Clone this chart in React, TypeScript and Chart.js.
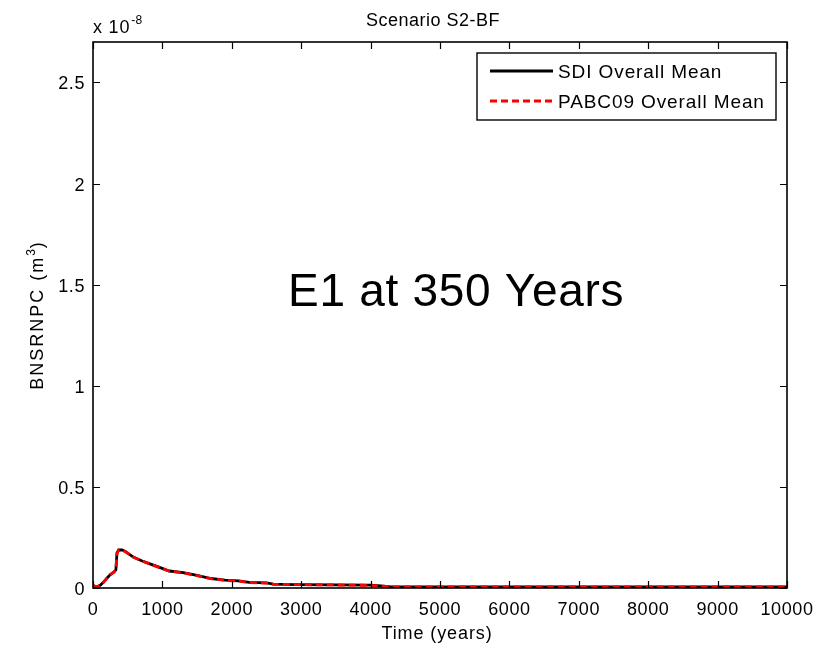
import React, { useEffect, useRef } from "react";
import { Chart, registerables } from "chart.js";

Chart.register(...registerables);

// ---- data (values in units of 1e-8 m^3) ----
const timeYears = [0, 50, 100, 150, 200, 250, 300, 330, 345, 370, 420, 470, 570, 700, 800, 950, 1100, 1300, 1500, 1700, 1900, 2100, 2250, 2500, 2600, 2900, 3500, 4000, 4150, 4300, 5000, 6000, 7000, 8000, 9000, 10000];
const sdiMean = [0.012, 0.006, 0.012, 0.028, 0.048, 0.066, 0.078, 0.09, 0.172, 0.188, 0.188, 0.18, 0.155, 0.135, 0.122, 0.103, 0.084, 0.076, 0.062, 0.047, 0.039, 0.035, 0.028, 0.025, 0.019, 0.017, 0.015, 0.014, 0.01, 0.006, 0.006, 0.006, 0.006, 0.006, 0.006, 0.006];
const pabcMean = [0.012, 0.006, 0.012, 0.028, 0.048, 0.066, 0.078, 0.09, 0.171, 0.188, 0.187, 0.179, 0.154, 0.134, 0.121, 0.102, 0.083, 0.075, 0.061, 0.046, 0.038, 0.034, 0.027, 0.024, 0.018, 0.017, 0.015, 0.013, 0.009, 0.006, 0.006, 0.006, 0.006, 0.006, 0.006, 0.006];

const xTicks = [0, 1000, 2000, 3000, 4000, 5000, 6000, 7000, 8000, 9000, 10000];
const xTickLabels = ["0", "1000", "2000", "3000", "4000", "5000", "6000", "7000", "8000", "9000", "10000"];
const yTicks = [0, 0.5, 1, 1.5, 2, 2.5];
const yTickLabels = ["0", "0.5", "1", "1.5", "2", "2.5"];

const seriesNames = ["SDI Overall Mean", "PABC09 Overall Mean"];
const chartTitle = "Scenario S2-BF";
const xTitle = "Time (years)";
const yTitleMain = "BNSRNPC (m";
const yTitleSup = "3";
const yTitleTail = ")";
const annotation = "E1 at 350 Years";
const exponentText = "x 10";
const exponentSup = "-8";

const FONT = '"Liberation Sans", Arial, Helvetica, sans-serif';

function drawText(ctx: CanvasRenderingContext2D, s: string, x: number, y: number, size: number, align: CanvasTextAlign = "left", spacing = 0) {
  ctx.font = `${size}px ${FONT}`;
  (ctx as any).letterSpacing = `${spacing}px`;
  ctx.textAlign = align;
  ctx.textBaseline = "alphabetic";
  ctx.fillText(s, x, y);
  (ctx as any).letterSpacing = "0px";
}

function measure(ctx: CanvasRenderingContext2D, s: string, size: number, spacing = 0) {
  ctx.font = `${size}px ${FONT}`;
  (ctx as any).letterSpacing = `${spacing}px`;
  const w = ctx.measureText(s).width;
  (ctx as any).letterSpacing = "0px";
  return w;
}

const decorPlugin = {
  id: "matlabDecor",
  afterDraw(chart: any) {
    const { ctx, chartArea: a, scales } = chart;
    const xs = scales.x;
    const ys = scales.y;
    ctx.save();
    ctx.fillStyle = "#000";
    ctx.strokeStyle = "#000";

    // ticks (inward, on all four sides)
    ctx.lineWidth = 1.2;
    ctx.beginPath();
    xTicks.forEach((v) => {
      const px = Math.round(xs.getPixelForValue(v)) + 0.5;
      ctx.moveTo(px, a.bottom);
      ctx.lineTo(px, a.bottom - 7);
      ctx.moveTo(px, a.top);
      ctx.lineTo(px, a.top + 7);
    });
    yTicks.forEach((v) => {
      const py = Math.round(ys.getPixelForValue(v)) + 0.5;
      ctx.moveTo(a.left, py);
      ctx.lineTo(a.left + 7, py);
      ctx.moveTo(a.right, py);
      ctx.lineTo(a.right - 7, py);
    });
    ctx.stroke();

    // box
    ctx.lineWidth = 1.6;
    ctx.strokeRect(a.left, a.top, a.right - a.left, a.bottom - a.top);

    // tick labels
    xTicks.forEach((v, i) => {
      drawText(ctx, xTickLabels[i], xs.getPixelForValue(v), a.bottom + 27, 18, "center", 0.6);
    });
    yTicks.forEach((v, i) => {
      drawText(ctx, yTickLabels[i], a.left - 8, ys.getPixelForValue(v) + 7, 18, "right", 0.6);
    });

    // exponent
    drawText(ctx, exponentText, a.left, a.top - 9, 18, "left", 0.8);
    const ew = measure(ctx, exponentText, 18, 0.8);
    drawText(ctx, exponentSup, a.left + ew + 1, a.top - 18, 12, "left", 0.4);

    // title
    drawText(ctx, chartTitle, (a.left + a.right) / 2 - 7, 26, 18, "center", 0.5);

    // x title
    drawText(ctx, xTitle, (a.left + a.right) / 2 - 3, 639, 18, "center", 0.9);

    // y title (rotated)
    ctx.save();
    ctx.translate(43, (a.top + a.bottom) / 2);
    ctx.rotate(-Math.PI / 2);
    const w1 = measure(ctx, yTitleMain, 18, 2.0);
    const w2 = measure(ctx, yTitleSup, 12, 1.0);
    const w3 = measure(ctx, yTitleTail, 18, 2.0);
    const tot = w1 + w2 + w3;
    let cx = -tot / 2;
    drawText(ctx, yTitleMain, cx, 0, 18, "left", 2.0);
    cx += w1;
    drawText(ctx, yTitleSup, cx, -8, 12, "left", 1.0);
    cx += w2;
    drawText(ctx, yTitleTail, cx, 0, 18, "left", 2.0);
    ctx.restore();

    // annotation
    drawText(ctx, annotation, 288, 306, 46, "left", 0.7);

    // legend
    const lx = 477, ly = 53, lw = 299, lh = 67;
    ctx.fillStyle = "#fff";
    ctx.fillRect(lx, ly, lw, lh);
    ctx.lineWidth = 1.4;
    ctx.strokeStyle = "#000";
    ctx.strokeRect(lx, ly, lw, lh);
    const ds = chart.data.datasets;
    const rows = [71, 101];
    rows.forEach((ry, i) => {
      ctx.save();
      ctx.strokeStyle = ds[i].borderColor;
      ctx.lineWidth = ds[i].borderWidth;
      ctx.setLineDash(ds[i].borderDash || []);
      ctx.beginPath();
      ctx.moveTo(490, ry);
      ctx.lineTo(553, ry);
      ctx.stroke();
      ctx.restore();
      ctx.fillStyle = "#000";
      drawText(ctx, seriesNames[i], 558, ry + 7, 19, "left", 0.9);
    });

    ctx.restore();
  },
};

export default function App() {
  const ref = useRef<HTMLCanvasElement>(null);
  useEffect(() => {
    const canvas = ref.current!;
    const chart = new Chart(canvas, {
      type: "line",
      data: {
        datasets: [
          {
            label: seriesNames[0],
            data: timeYears.map((t, i) => ({ x: t, y: sdiMean[i] })),
            borderColor: "#000000",
            borderWidth: 2.8,
            pointRadius: 0,
            tension: 0,
            fill: false,
            order: 2,
          },
          {
            label: seriesNames[1],
            data: timeYears.map((t, i) => ({ x: t, y: pabcMean[i] })),
            borderColor: "#ff0000",
            borderWidth: 2.8,
            borderDash: [7, 4],
            pointRadius: 0,
            tension: 0,
            fill: false,
            order: 1,
          },
        ],
      },
      options: {
        responsive: false,
        animation: false,
        devicePixelRatio: 1,
        layout: { padding: { top: 42, right: 40, left: 0, bottom: 0 } },
        plugins: { legend: { display: false }, title: { display: false }, tooltip: { enabled: false } },
        scales: {
          x: {
            type: "linear",
            min: 0,
            max: 10000,
            grid: { display: false },
            border: { display: false },
            ticks: { display: false },
            afterBuildTicks: (s: any) => { s.ticks = xTicks.map((v) => ({ value: v })); },
            afterFit: (s: any) => { s.height = 59; },
          },
          y: {
            type: "linear",
            min: 0,
            max: 2.7,
            grid: { display: false },
            border: { display: false },
            ticks: { display: false },
            afterBuildTicks: (s: any) => { s.ticks = yTicks.map((v) => ({ value: v })); },
            afterFit: (s: any) => { s.width = 93; },
          },
        },
      },
      plugins: [decorPlugin],
    });
    return () => chart.destroy();
  }, []);
  return (
    <div style={{ position: "absolute", left: 0, top: 0, width: 827, height: 647, background: "#fff" }}>
      <canvas ref={ref} width={827} height={647} />
    </div>
  );
}
